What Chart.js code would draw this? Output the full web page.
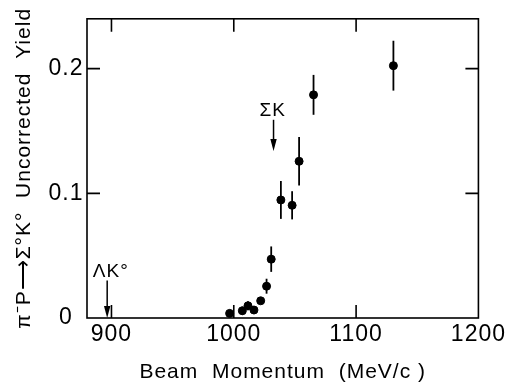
<!DOCTYPE html>
<html lang="en">
<head>
<meta charset="UTF-8">
<title>Sigma K0 uncorrected yield</title>
<script src="https://cdn.jsdelivr.net/npm/chart.js"></script>
<style>
  html, body { margin: 0; padding: 0; background: #fff; }
  #wrap { width: 507px; height: 387px; }
</style>
</head>
<body>
<div id="wrap"><canvas id="yieldChart" width="507" height="387"></canvas></div>
<script>
// beam momentum (MeV/c)
const momentum = [996.6, 1007, 1011.6, 1016.5, 1022, 1026.8, 1030.6, 1038.5, 1047.7, 1053.4, 1065.2, 1130.5];
// uncorrected yield and its error
const yieldVals = [0.0037, 0.0058, 0.0098, 0.0064, 0.0138, 0.0255, 0.0472, 0.0947, 0.0904, 0.1257, 0.179, 0.2024];
const yieldErr = [0.003, 0.0033, 0.0036, 0.003, 0.0027, 0.006, 0.0102, 0.0152, 0.0113, 0.0195, 0.016, 0.020];
const xTicks = [900, 1000, 1100, 1200];
const yTicks = [0, 0.1, 0.2];
// threshold arrows
const markLabels = ['ΣK', 'ΛK°'];
const markTextX = [1031.8, 899.5];
const markTextY = [0.1665, 0.037];
const markX = [1032.5, 896.5];
const markArrowTop = [0.159, 0.030];
const markArrowTip = [0.134, 0];

const FONT = 'Liberation Sans';

const extras = {
  id: 'extras',
  beforeDraw(chart) {
    chart.ctx.letterSpacing = '1px';
  },
  beforeDatasetsDraw(chart) {
    const { ctx, scales: { x, y } } = chart;
    ctx.save();
    ctx.strokeStyle = '#000';
    ctx.lineWidth = 1.8;
    // error bars
    momentum.forEach((m, i) => {
      const px = x.getPixelForValue(m);
      ctx.beginPath();
      ctx.moveTo(px, y.getPixelForValue(yieldVals[i] - yieldErr[i]));
      ctx.lineTo(px, y.getPixelForValue(yieldVals[i] + yieldErr[i]));
      ctx.stroke();
    });
    ctx.restore();
  },
  afterDatasetsDraw(chart) {
    const { ctx, chartArea: a, scales: { x, y } } = chart;
    ctx.save();
    ctx.strokeStyle = '#000';
    ctx.fillStyle = '#000';
    ctx.lineWidth = 1.6;
    ctx.strokeRect(a.left, a.top, a.right - a.left, a.bottom - a.top);

    // inner ticks on all sides
    const tl = 13;
    ctx.beginPath();
    xTicks.forEach(v => {
      if (v <= x.min || v >= x.max) return;
      const px = x.getPixelForValue(v);
      ctx.moveTo(px, a.bottom); ctx.lineTo(px, a.bottom - tl);
      ctx.moveTo(px, a.top); ctx.lineTo(px, a.top + tl);
    });
    yTicks.forEach(v => {
      if (v <= y.min || v >= y.max) return;
      const py = y.getPixelForValue(v);
      ctx.moveTo(a.left, py); ctx.lineTo(a.left + tl, py);
      ctx.moveTo(a.right, py); ctx.lineTo(a.right - tl, py);
    });
    ctx.stroke();

    // arrows + labels
    ctx.lineWidth = 1.5;
    markLabels.forEach((lab, i) => {
      const px = x.getPixelForValue(markX[i]);
      const y1 = y.getPixelForValue(markArrowTop[i]);
      const y2 = y.getPixelForValue(markArrowTip[i]);
      ctx.beginPath();
      ctx.moveTo(px, y1); ctx.lineTo(px, y2 - 10);
      ctx.stroke();
      ctx.beginPath();
      ctx.moveTo(px, y2);
      ctx.lineTo(px - 3.2, y2 - 12);
      ctx.lineTo(px + 3.2, y2 - 12);
      ctx.closePath();
      ctx.fill();

      ctx.font = '19px "' + FONT + '"';
      ctx.textAlign = 'center';
      ctx.textBaseline = 'middle';
      ctx.fillText(lab, x.getPixelForValue(markTextX[i]), y.getPixelForValue(markTextY[i]));
    });
    ctx.restore();
  }
};

const ctx = document.getElementById('yieldChart').getContext('2d');
new Chart(ctx, {
  type: 'scatter',
  data: {
    datasets: [{
      data: momentum.map((m, i) => ({ x: m, y: yieldVals[i] })),
      backgroundColor: '#000',
      borderColor: '#000',
      pointRadius: 4,
      pointHoverRadius: 4
    }]
  },
  options: {
    responsive: false,
    animation: false,
    events: [],
    layout: { padding: { top: 16, right: 27, left: 0, bottom: 0 } },
    plugins: { legend: { display: false }, tooltip: { enabled: false } },
    scales: {
      x: {
        type: 'linear',
        min: 880,
        max: 1200,
        afterBuildTicks: s => { s.ticks = xTicks.map(v => ({ value: v })); },
        afterFit: s => { s.height = 69; },
        grid: { display: false, drawTicks: false },
        border: { display: false },
        ticks: {
          color: '#000',
          font: { family: FONT, size: 23 },
          padding: 3,
          maxRotation: 0,
          autoSkip: false,
          callback: v => String(v)
        },
        title: {
          display: true,
          text: 'Beam  Momentum  (MeV/c )',
          color: '#000',
          font: { family: FONT, size: 21 },
          padding: { top: 0, bottom: 2 }
        }
      },
      y: {
        min: 0,
        max: 0.24,
        afterBuildTicks: s => { s.ticks = yTicks.map(v => ({ value: v })); },
        afterFit: s => { s.width = 87; },
        grid: { display: false, drawTicks: false },
        border: { display: false },
        ticks: {
          color: '#000',
          font: { family: FONT, size: 23 },
          padding: 5,
          crossAlign: 'center',
          callback: v => (v === 0 ? '0' : v.toFixed(1))
        },
        title: {
          display: true,
          text: 'π⁻P⟶Σ°K°  Uncorrected  Yield',
          color: '#000',
          font: { family: FONT, size: 21 },
          padding: { top: 12, bottom: 0 }
        }
      }
    }
  },
  plugins: [extras]
});
</script>
</body>
</html>
